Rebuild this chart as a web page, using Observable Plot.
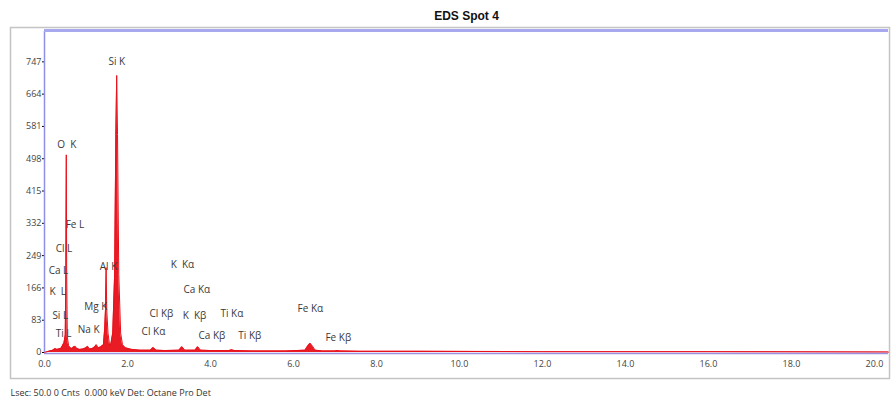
<!DOCTYPE html>
<html>
<head>
<meta charset="utf-8">
<script src="https://cdn.jsdelivr.net/npm/d3@7"></script>
<script src="https://cdn.jsdelivr.net/npm/@observablehq/plot@0.6"></script>
<style>
  html, body { margin: 0; padding: 0; background: #fff; }
  #chart { width: 891px; height: 402px; overflow: hidden; }
</style>
</head>
<body>
<div id="chart"></div>
<script>
// Spectrum: energy (keV) and counts
const energy = [0.00, 0.10, 0.20, 0.26, 0.30, 0.40, 0.47, 0.50, 0.515, 0.525, 0.535, 0.55, 0.58, 0.62, 0.66, 0.70, 0.74, 0.78, 0.85, 0.93, 1.00, 1.04, 1.08, 1.15, 1.21, 1.25, 1.29, 1.35, 1.42, 1.45, 1.47, 1.485, 1.50, 1.53, 1.57, 1.60, 1.645, 1.69, 1.72, 1.74, 1.76, 1.79, 1.835, 1.88, 1.95, 2.10, 2.30, 2.55, 2.62, 2.69, 2.90, 3.24, 3.31, 3.38, 3.55, 3.63, 3.69, 3.76, 4.00, 4.45, 4.51, 4.57, 5.00, 5.80, 6.28, 6.34, 6.40, 6.46, 6.52, 6.70, 7.00, 7.06, 7.12, 7.60, 9.00, 12.0, 16.0, 20.34];
const counts = [0, 3, 6, 10, 8, 11, 25, 45, 200, 508, 200, 40, 18, 12, 10, 14, 16, 10, 8, 9, 12, 16, 9, 10, 14, 20, 12, 14, 20, 60, 110, 218, 110, 50, 18, 22, 50, 200, 560, 712, 560, 200, 50, 20, 12, 8, 6, 6, 13, 6, 5, 6, 15, 6, 6, 6, 15, 6, 5, 5, 7, 5, 4, 4, 6, 16, 24, 16, 6, 4, 4, 5, 4, 3, 3, 2, 2, 1];

// Tick labels
const yTicks = [0, 83, 166, 249, 332, 415, 498, 581, 664, 747];
const xTicks = [0, 2, 4, 6, 8, 10, 12, 14, 16, 18, 20];

// Peak labels and their anchor points (keV, counts)
const peakNames = ["Si K", "O  K", "Fe L", "Cl L", "Ca L", "K  L", "Si L", "Ti L", "Na K", "Mg K", "Al K", "K  Kα", "Ca Kα", "Cl Kβ", "K  Kβ", "Ti Kα", "Cl Kα", "Ca Kβ", "Ti Kβ", "Fe Kα", "Fe Kβ"];
const peakX = [1.54, 0.31, 0.51, 0.27, 0.10, 0.12, 0.19, 0.27, 0.80, 0.96, 1.33, 3.04, 3.35, 2.53, 3.33, 4.24, 2.34, 3.71, 4.67, 6.10, 6.77];
const peakY = [748, 535, 329, 267, 211, 157, 95, 49, 59, 118, 221, 226, 162, 100, 95, 100, 54, 44, 44, 113, 39];

const title = "EDS Spot 4";
const caption = "Lsec: 50.0 0 Cnts  0.000 keV Det: Octane Pro Det";

const spectrum = energy.map((e, i) => ({e, c: counts[i]}));
const peaks = peakNames.map((n, i) => ({n, x: peakX[i], y: peakY[i]}));

const red = "#e8101a";

const plot = Plot.plot({
  width: 891,
  height: 402,
  marginLeft: 44,
  marginRight: 3,
  marginTop: 31,
  marginBottom: 50,
  style: {fontFamily: "'Open Sans', 'Liberation Sans', sans-serif", background: "#fff", overflow: "visible"},
  x: {domain: [0, 20.34], ticks: xTicks, tickFormat: d3.format(".1f"), label: null, tickSize: 0, tickPadding: 8},
  y: {domain: [0, 825], ticks: yTicks, tickFormat: d => String(d), label: null, tickSize: 2, tickPadding: 1},
  marks: [
    Plot.areaY(spectrum, {x: "e", y: "c", fill: red, fillOpacity: 0.95, curve: "linear"}),
    Plot.lineY(spectrum, {x: "e", y: "c", stroke: red, strokeWidth: 1, curve: "linear"}),
    Plot.ruleY([0], {stroke: "#9b8fe0", strokeWidth: 1.5, dy: 1}),
    Plot.ruleX([0], {stroke: "#8f8fe8", strokeWidth: 1.5}),
    Plot.ruleY([825], {stroke: "#a8a8ee", strokeWidth: 3, dy: -1}),
    Plot.text(peaks, {x: "x", y: "y", text: "n", textAnchor: "start", fill: "#3a3a3a", fontSize: 10}),
    Plot.text([title], {frameAnchor: "top", dy: -20, fontSize: 12, fontWeight: "bold", fill: "#111", fontFamily: "'Liberation Sans', Arial, sans-serif"}),
    Plot.text([caption], {frameAnchor: "bottom-left", dx: -34, dy: 43, textAnchor: "start", fontSize: 9, fill: "#333"})
  ]
});

const svg = d3.select(plot);
svg.selectAll("[aria-label='y-axis tick label'] text, [aria-label='x-axis tick label'] text").attr("fill", "#444");
svg.attr("font-size", 9);
// outer gray panel frame
svg.insert("rect", ":first-child")
  .attr("x", 10.5).attr("y", 27.5).attr("width", 879).attr("height", 351)
  .attr("fill", "none").attr("stroke", "#c4c4c4").attr("stroke-width", 1.5);
document.getElementById("chart").appendChild(plot);
</script>
</body>
</html>
